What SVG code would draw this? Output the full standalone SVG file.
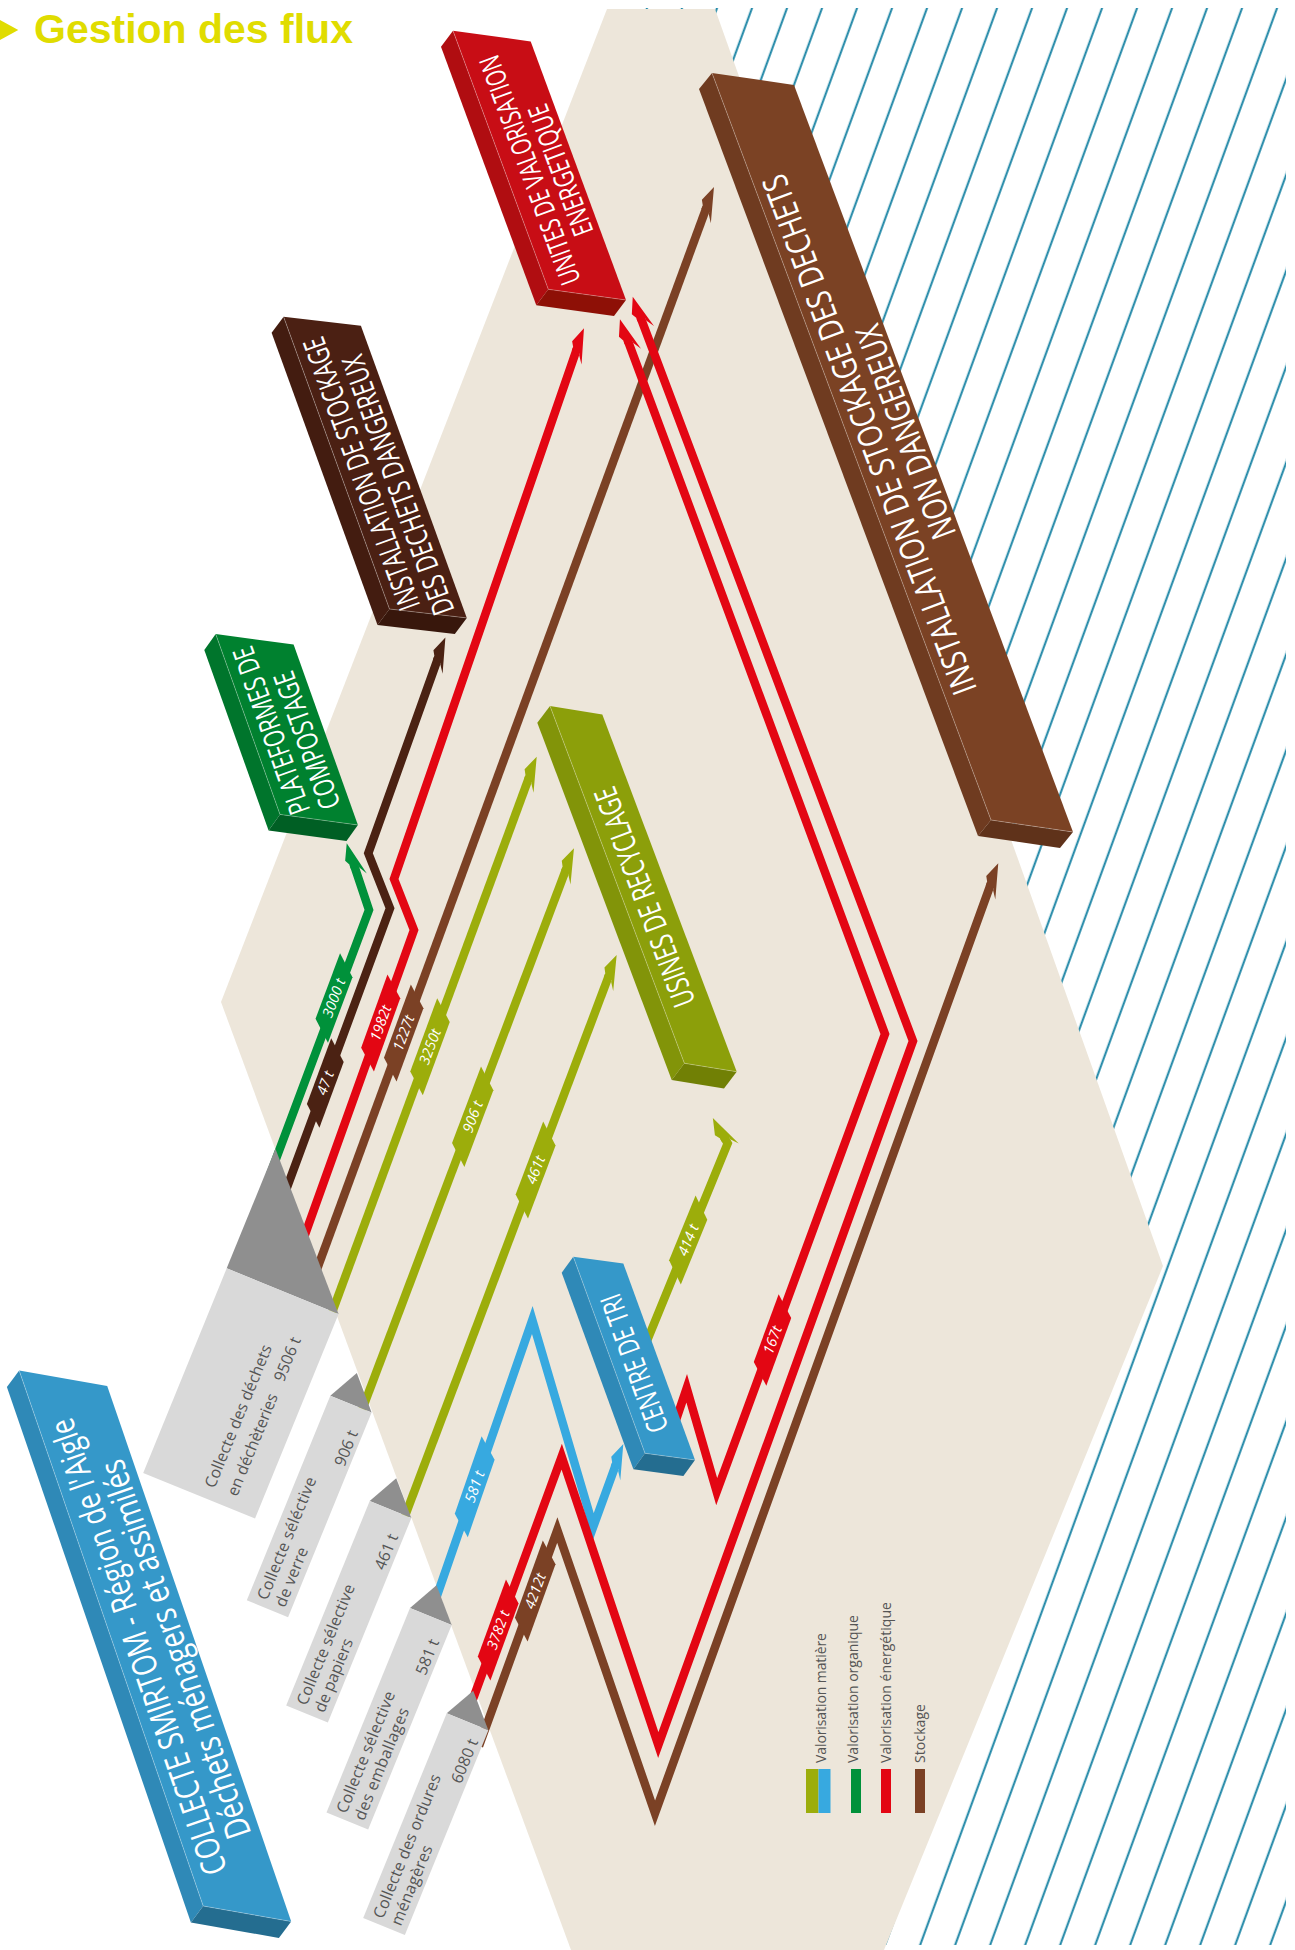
<svg xmlns="http://www.w3.org/2000/svg" width="1295" height="1950" viewBox="0 0 1295 1950">
<style>
.ln{fill:none;stroke-width:8.5;stroke-linejoin:miter;stroke-miterlimit:10;stroke-linecap:butt}
.g{stroke:#00913a}.db{stroke:#4b2213}.r{stroke:#e30613}.b{stroke:#7b4125}.o{stroke:#9cad0b}.bl{stroke:#37a9e0}
.fg{fill:#00913a}.fdb{fill:#4b2213}.fr{fill:#e30613}.fb{fill:#7b4125}.fo{fill:#9cad0b}.fbl{fill:#37a9e0}
.bt{font-family:'Liberation Sans Narrow','Open Sans',sans-serif;fill:#fff;text-anchor:middle}
.lbl{font-family:'Open Sans','Liberation Sans',sans-serif;font-style:italic;font-size:14.5px;fill:#fff;text-anchor:middle}
.gt{font-family:'Open Sans','Liberation Sans',sans-serif;font-size:16px;fill:#555}
.leg{font-family:'Open Sans','Liberation Sans',sans-serif;font-size:14px;fill:#555}
.edge{fill:none;stroke:#fff;stroke-opacity:.35;stroke-width:.8}
.tri{fill:#8f8f8f}.gbox{fill:#d9d9d9}
</style>
<defs>
<pattern id="hatch" patternUnits="userSpaceOnUse" width="32.88" height="40" patternTransform="rotate(20.05)">
<rect x="17.7" y="0" width="2" height="40" fill="#1c85a5"/>
</pattern>
<marker id="ah-g" markerUnits="userSpaceOnUse" markerWidth="60" markerHeight="40" refX="0" refY="0" orient="auto" overflow="visible"><polygon points="22,0 6,-7 1,-4.25 -3,-4.25 -3,4.25 -5,4.25 -13,9.5" fill="#00913a"/></marker>
<marker id="ah-db" markerUnits="userSpaceOnUse" markerWidth="60" markerHeight="40" refX="0" refY="0" orient="auto" overflow="visible"><polygon points="22,0 6,-7 1,-4.25 -3,-4.25 -3,4.25 -5,4.25 -13,9.5" fill="#4b2213"/></marker>
<marker id="ah-r" markerUnits="userSpaceOnUse" markerWidth="60" markerHeight="40" refX="0" refY="0" orient="auto" overflow="visible"><polygon points="22,0 6,-7 1,-4.25 -3,-4.25 -3,4.25 -5,4.25 -13,9.5" fill="#e30613"/></marker>
<marker id="ah-b" markerUnits="userSpaceOnUse" markerWidth="60" markerHeight="40" refX="0" refY="0" orient="auto" overflow="visible"><polygon points="22,0 6,-7 1,-4.25 -3,-4.25 -3,4.25 -5,4.25 -13,9.5" fill="#7b4125"/></marker>
<marker id="ah-o" markerUnits="userSpaceOnUse" markerWidth="60" markerHeight="40" refX="0" refY="0" orient="auto" overflow="visible"><polygon points="22,0 6,-7 1,-4.25 -3,-4.25 -3,4.25 -5,4.25 -13,9.5" fill="#9cad0b"/></marker>
<marker id="ah-bl" markerUnits="userSpaceOnUse" markerWidth="60" markerHeight="40" refX="0" refY="0" orient="auto" overflow="visible"><polygon points="22,0 6,-7 1,-4.25 -3,-4.25 -3,4.25 -5,4.25 -13,9.5" fill="#37a9e0"/></marker>
</defs>

<rect width="1295" height="1950" fill="#fff"/>
<polygon points="630,8 1286,8 1286,1945 860,1945 1100,1266" fill="url(#hatch)"/>
<polygon points="607,9 715,9 1163,1266 884,1950 571,1950 221,1002" fill="#ede6da"/>

<g id="connectors">
<path class="ln g" d="M270,1175 L369,910 L353.7,864.2" marker-end="url(#ah-g)"/>
<path class="ln db" d="M280.5,1205 L390,908.3 L368.3,853.3 L438,658.2" marker-end="url(#ah-db)"/>
<path class="ln r" d="M299.5,1250 L414,930 L394,879 L576.8,349.1" marker-end="url(#ah-r)"/>
<path class="ln b" d="M308.3,1293 L706.4,207.7" marker-end="url(#ah-b)"/>
<path class="ln o" d="M329.3,1320 L529.1,777.3" marker-end="url(#ah-o)"/>
<path class="ln o" d="M359,1418 L566.2,868.9" marker-end="url(#ah-o)"/>
<path class="ln o" d="M402,1524 L608.9,975.6" marker-end="url(#ah-o)"/>
<path class="ln bl" d="M431,1613 L532.3,1320 L593.3,1526.7 L615.8,1464.7" marker-end="url(#ah-bl)"/>
<path class="ln o" d="M640,1358 L727.7,1143.3 L724,1137" marker-end="url(#ah-o)"/>
<path class="ln r" d="M670.7,1435.7 L686.7,1388.3 L716.7,1491.7 L885,1034 L627.6,339.9" marker-end="url(#ah-r)"/>
<path class="ln r" d="M467.5,1714 L561.7,1456.7 L658.3,1745 L913,1041 L640.5,317.3" marker-end="url(#ah-r)"/>
<path class="ln b" d="M479,1746 L557.3,1530 L655,1813.3 L990.8,884" marker-end="url(#ah-b)"/>

<g transform="translate(334,998) rotate(-69.5)"><polygon class="fg" points="-26,-10 44,-10 26,10 -44,10"/><text class="lbl" y="5">3000 t</text></g>
<g transform="translate(325.3,1083) rotate(-69.7)"><polygon class="fdb" points="-26,-10 44,-10 26,10 -44,10"/><text class="lbl" y="5">47 t</text></g>
<g transform="translate(380.7,1023) rotate(-70.3)"><polygon class="fr" points="-30,-10 48,-10 30,10 -48,10"/><text class="lbl" y="5">1982t</text></g>
<g transform="translate(403.7,1033) rotate(-69.85)"><polygon class="fb" points="-30,-10 48,-10 30,10 -48,10"/><text class="lbl" y="5">1227t</text></g>
<g transform="translate(430,1046.7) rotate(-69.8)"><polygon class="fo" points="-30,-10 48,-10 30,10 -48,10"/><text class="lbl" y="5">3250t</text></g>
<g transform="translate(472.7,1116.7) rotate(-69.3)"><polygon class="fo" points="-32,-10 50,-10 32,10 -50,10"/><text class="lbl" y="5">906 t</text></g>
<g transform="translate(535.6,1170) rotate(-69.3)"><polygon class="fo" points="-30,-10 48,-10 30,10 -48,10"/><text class="lbl" y="5">461t</text></g>
<g transform="translate(474.7,1486.7) rotate(-70.9)"><polygon class="fbl" points="-32,-10 50,-10 32,10 -50,10"/><text class="lbl" y="5">581 t</text></g>
<g transform="translate(498.2,1630) rotate(-69.9)"><polygon class="fr" points="-32,-10 50,-10 32,10 -50,10"/><text class="lbl" y="5">3782 t</text></g>
<g transform="translate(535.2,1591) rotate(-70.1)"><polygon class="fb" points="-32,-10 50,-10 32,10 -50,10"/><text class="lbl" y="5">4212t</text></g>
<g transform="translate(688.2,1240) rotate(-67.8)"><polygon class="fo" points="-26,-10 44,-10 26,10 -44,10"/><text class="lbl" y="5">414 t</text></g>
<g transform="translate(772.5,1340) rotate(-69.8)"><polygon class="fr" points="-27,-10 45,-10 27,10 -45,10"/><text class="lbl" y="5">167t</text></g>
</g>

<g id="node-decheteries" transform="translate(226.7,1268.3) rotate(22.2)">
<polygon class="tri" points="0,0 120.8,0 0,-129"/>
<rect class="gbox" width="120.8" height="221"/>
<g transform="rotate(-90)">
<text class="gt" x="-209" y="72" textLength="153">Collecte des déchets</text>
<text class="gt" x="-208" y="96" textLength="109">en déchèteries</text>
<text class="gt" x="-38" y="96" text-anchor="end">9506 t</text>
</g></g>
<g id="node-verre" transform="translate(330.3,1395.7) rotate(22.2)">
<polygon class="tri" points="0,0 44.6,0 16,-31"/>
<rect class="gbox" width="44.6" height="221"/>
<g transform="rotate(-90)">
<text class="gt" x="-214" y="19" textLength="131">Collecte séléctive</text>
<text class="gt" x="-214" y="38" textLength="63">de verre</text>
<text class="gt" x="-24" y="40" text-anchor="end">906 t</text>
</g></g>
<g id="node-papiers" transform="translate(369.7,1501) rotate(22.2)">
<polygon class="tri" points="0,0 45,0 16,-31"/>
<rect class="gbox" width="45" height="221"/>
<g transform="rotate(-90)">
<text class="gt" x="-214" y="19" textLength="129">Collecte sélective</text>
<text class="gt" x="-214" y="38" textLength="78">de papiers</text>
<text class="gt" x="-22" y="40" text-anchor="end">461 t</text>
</g></g>
<g id="node-emballages" transform="translate(410,1608) rotate(22.2)">
<polygon class="tri" points="0,0 45,0 16,-31"/>
<rect class="gbox" width="45" height="221"/>
<g transform="rotate(-90)">
<text class="gt" x="-215" y="19" textLength="130">Collecte sélective</text>
<text class="gt" x="-215" y="38" textLength="120">des emballages</text>
<text class="gt" x="-20" y="40" text-anchor="end">581 t</text>
</g></g>
<g id="node-ordures" transform="translate(446.7,1713.3) rotate(22.2)">
<polygon class="tri" points="0,0 45,0 16,-31"/>
<rect class="gbox" width="45" height="221"/>
<g transform="rotate(-90)">
<text class="gt" x="-215" y="19" textLength="154">Collecte des ordures</text>
<text class="gt" x="-215" y="38" textLength="85">ménagères</text>
<text class="gt" x="-14" y="40" text-anchor="end">6080 t</text>
</g></g>

<g id="node-uve">
<polygon points="453,30.7 548.3,289.3 536.3,305.3 441,46.7" fill="#b00d11"/>
<polygon points="548.3,289.3 626,300 614,316 536.3,305.3" fill="#8e1006"/>
<polygon points="453,30.7 530.7,41.4 626,300 548.3,289.3" fill="#c80d15"/>
<polyline class="edge" points="453,30.7 548.3,289.3 626,300"/>
<text class="bt" transform="translate(539.2,166.8) rotate(-110.23)" font-size="28" textLength="242" lengthAdjust="spacingAndGlyphs">UNITES DE VALORISATION</text>
<text class="bt" transform="translate(569.9,166.7) rotate(-110.23)" font-size="28" textLength="138" lengthAdjust="spacingAndGlyphs">ENERGETIQUE</text>
</g>

<g id="node-stockage-nd">
<polygon points="712,73 991,820 978,836 699,89" fill="#6f3b20"/>
<polygon points="991,820 1073,832 1060,848 978,836" fill="#5f321a"/>
<polygon points="712,73 794,85 1073,832 991,820" fill="#7b4224"/>
<polyline class="edge" points="712,73 991,820 1073,832"/>
<text class="bt" transform="translate(880.7,430.4) rotate(-110.48)" font-size="34" textLength="552" lengthAdjust="spacingAndGlyphs">INSTALLATION DE STOCKAGE DES DECHETS</text>
<text class="bt" transform="translate(917,427.7) rotate(-110.48)" font-size="34" textLength="226" lengthAdjust="spacingAndGlyphs">NON DANGEREUX</text>
</g>

<g id="node-stockage-d">
<polygon points="283.6,316.8 389.5,609 377.5,625 271.6,332.8" fill="#431c10"/>
<polygon points="389.5,609 466.8,617.9 454.8,633.9 377.5,625" fill="#38170c"/>
<polygon points="283.6,316.8 360.9,325.7 466.8,617.9 389.5,609" fill="#4b2013"/>
<polyline class="edge" points="283.6,316.8 389.5,609 466.8,617.9"/>
<text class="bt" transform="translate(371.5,470) rotate(-109.92)" font-size="30" textLength="288" lengthAdjust="spacingAndGlyphs">INSTALLATION DE STOCKAGE</text>
<text class="bt" transform="translate(408,481.4) rotate(-109.92)" font-size="30" textLength="274" lengthAdjust="spacingAndGlyphs">DES DECHETS DANGEREUX</text>
</g>

<g id="node-compostage">
<polygon points="215.7,634 280,814.4 268.6,830.4 204.3,650" fill="#00752c"/>
<polygon points="280,814.4 357.9,825 346.5,841 268.6,830.4" fill="#005f24"/>
<polygon points="215.7,634 293.6,644.6 357.9,825 280,814.4" fill="#00812f"/>
<polyline class="edge" points="215.7,634 280,814.4 357.9,825"/>
<text class="bt" transform="translate(281,727.1) rotate(-109.62)" font-size="29" textLength="176" lengthAdjust="spacingAndGlyphs">PLATEFORMES DE</text>
<text class="bt" transform="translate(316.5,736.9) rotate(-109.62)" font-size="29" textLength="144" lengthAdjust="spacingAndGlyphs">COMPOSTAGE</text>
</g>

<g id="node-recyclage">
<polygon points="550,706 684.4,1063.3 671.7,1080 537.3,722.7" fill="#829409"/>
<polygon points="684.4,1063.3 736.7,1071.7 724,1088.4 671.7,1080" fill="#718005"/>
<polygon points="550,706 602.3,714.4 736.7,1071.7 684.4,1063.3" fill="#8c9f0a"/>
<polyline class="edge" points="550,706 684.4,1063.3 736.7,1071.7"/>
<text class="bt" transform="translate(654.8,893.1) rotate(-110.61)" font-size="31" textLength="232" lengthAdjust="spacingAndGlyphs">USINES DE RECYCLAGE</text>
</g>

<g id="node-centre-tri">
<polygon points="573.3,1256.7 645,1453.3 633.4,1469.3 561.7,1272.7" fill="#2f89b7"/>
<polygon points="645,1453.3 695,1460 683.4,1476 633.4,1469.3" fill="#246d90"/>
<polygon points="573.3,1256.7 623.3,1263.4 695,1460 645,1453.3" fill="#3598c9"/>
<polyline class="edge" points="573.3,1256.7 645,1453.3 695,1460"/>
<text class="bt" transform="translate(643.9,1359.8) rotate(-110.04)" font-size="29" textLength="145" lengthAdjust="spacingAndGlyphs">CENTRE DE TRI</text>
</g>

<g id="node-smirtom">
<polygon points="19.2,1370.5 203.2,1906 190.9,1922.5 6.9,1387" fill="#2f89b7"/>
<polygon points="203.2,1906 291.2,1921.5 278.9,1938 190.9,1922.5" fill="#246d90"/>
<polygon points="19.2,1370.5 107.2,1386 291.2,1921.5 203.2,1906" fill="#3598c9"/>
<polyline class="edge" points="19.2,1370.5 203.2,1906 291.2,1921.5"/>
<text class="bt" transform="translate(149.5,1643.1) rotate(-108.96)" font-size="34" textLength="480" lengthAdjust="spacingAndGlyphs">COLLECTE SMIRTOM - Région de l'Aigle</text>
<text class="bt" transform="translate(186.8,1645.4) rotate(-108.96)" font-size="35" textLength="398" lengthAdjust="spacingAndGlyphs">Déchets ménagers et assimilés</text>
</g>

<g id="legend">
<rect x="806" y="1769" width="12.5" height="44" fill="#9cad0b"/>
<rect x="818.5" y="1769" width="12" height="44" fill="#37a9e0"/>
<rect x="851" y="1769" width="10" height="44" fill="#00913a"/>
<rect x="881" y="1769" width="10" height="44" fill="#e30613"/>
<rect x="915" y="1769" width="10" height="44" fill="#7b4125"/>
<text class="leg" transform="translate(826,1763) rotate(-90)" textLength="130">Valorisation matière</text>
<text class="leg" transform="translate(858,1763) rotate(-90)" textLength="148">Valorisation organique</text>
<text class="leg" transform="translate(891,1763) rotate(-90)" textLength="161">Valorisation énergétique</text>
<text class="leg" transform="translate(925,1763) rotate(-90)" textLength="59">Stockage</text>
</g>

<g id="title">
<polygon points="0,20 18.3,30 0,40" fill="#e0dc00"/>
<text x="34" y="43.3" font-family="'Liberation Sans',Arial,sans-serif" font-weight="bold" font-size="41" fill="#e0dc00">Gestion des flux</text>
</g>
</svg>
